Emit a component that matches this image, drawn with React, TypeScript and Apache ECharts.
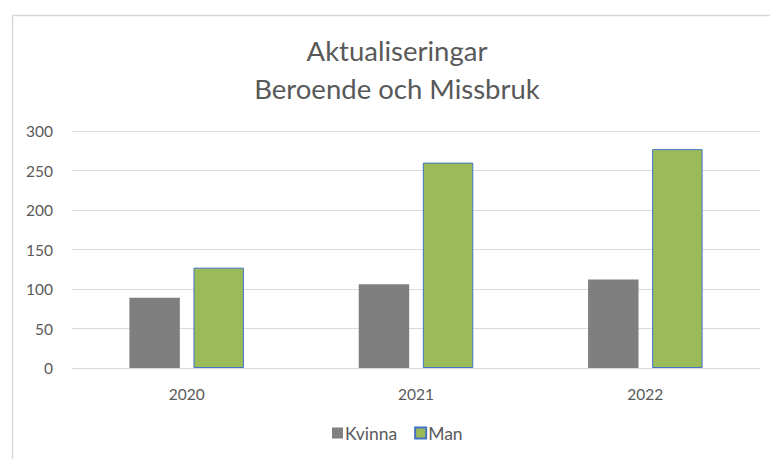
import React, { useEffect, useRef } from "react";
import * as echarts from "echarts";

const categories = ["2020", "2021", "2022"];
const kvinnaValues = [89, 106, 112];
const manValues = [127, 260, 277];
const titleLines = ["Aktualiseringar", "Beroende och Missbruk"];

export default function App() {
  const ref = useRef<HTMLDivElement>(null);
  useEffect(() => {
    if (!ref.current) return;
    const chart = echarts.init(ref.current, null, { renderer: "svg" });
    const font = "Lato, 'Open Sans', sans-serif";
    chart.setOption({
      animation: false,
      backgroundColor: "#ffffff",
      textStyle: { fontFamily: font },
      title: {
        text: titleLines.join("\n"),
        left: 397,
        textAlign: "center",
        top: 31,
        padding: 0,
        textStyle: {
          fontFamily: font,
          fontSize: 27.5,
          fontWeight: "normal",
          color: "#595959",
          lineHeight: 38,
        },
      },
      graphic: [
        { type: "line", shape: { x1: 12, y1: 15.5, x2: 770, y2: 15.5 }, style: { stroke: "#d9d9d9", lineWidth: 1.5 } },
        { type: "line", shape: { x1: 12.5, y1: 15, x2: 12.5, y2: 459 }, style: { stroke: "#d9d9d9", lineWidth: 1.5 } },
      ],
      legend: {
        top: 419,
        left: 327,
        padding: 5,
        itemWidth: 11,
        itemHeight: 11,
        itemGap: 17,
        textStyle: { fontFamily: font, fontSize: 17.5, color: "#595959", padding: [0, 0, 0, -3] },
        data: [
          { name: "Kvinna", icon: "rect" },
          { name: "Man", icon: "rect" },
        ],
      },
      grid: { left: 72, right: 10, top: 131, bottom: 91, containLabel: false },
      xAxis: {
        type: "category",
        data: categories,
        axisLine: { show: true, lineStyle: { color: "#d9d9d9" } },
        axisTick: { show: false },
        axisLabel: { fontFamily: font, fontSize: 15.5, color: "#595959", margin: 18 },
      },
      yAxis: {
        type: "value",
        min: 0,
        max: 300,
        interval: 50,
        axisLine: { show: false },
        axisTick: { show: false },
        axisLabel: { fontFamily: font, fontSize: 15.5, color: "#595959", margin: 19 },
        splitLine: { lineStyle: { color: "#d9d9d9", width: 1 } },
      },
      series: [
        {
          name: "Kvinna",
          type: "bar",
          data: kvinnaValues,
          barWidth: "22%",
          barGap: "27%",
          itemStyle: { color: "#7f7f7f" },
        },
        {
          name: "Man",
          type: "bar",
          data: manValues,
          barWidth: "22%",
          itemStyle: { color: "#9bbb59", borderColor: "#4472c4", borderWidth: 1 },
        },
      ],
    });
    return () => chart.dispose();
  }, []);
  return <div ref={ref} style={{ width: 770, height: 459, position: "absolute", left: 0, top: 0 }} />;
}
